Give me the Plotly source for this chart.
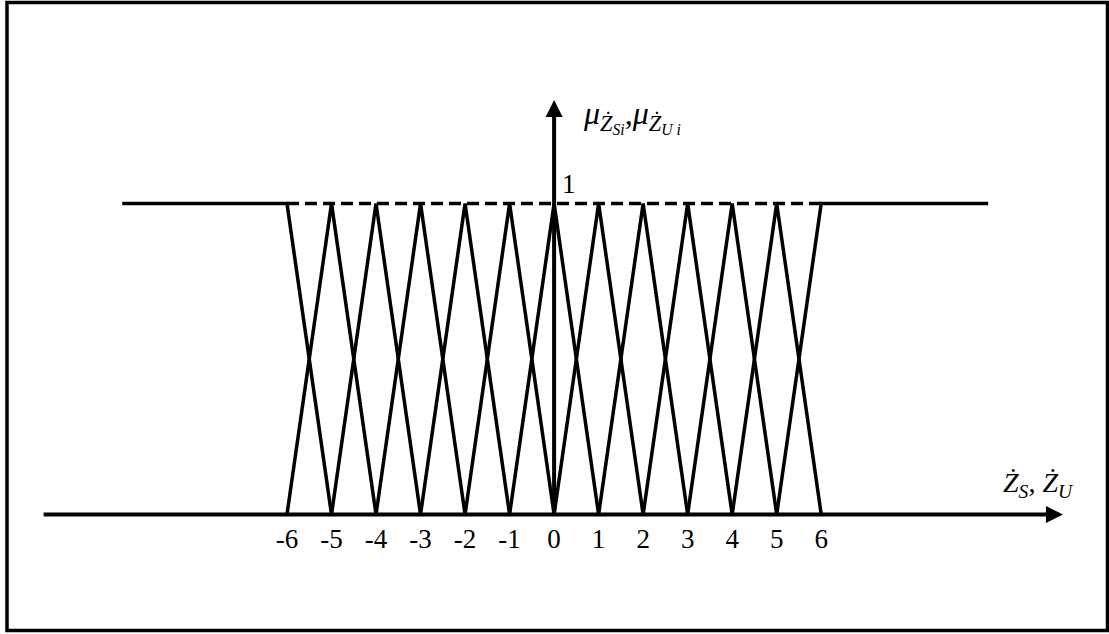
import plotly.graph_objects as go

# ---- data ----
centers = [-6, -5, -4, -3, -2, -1, 0, 1, 2, 3, 4, 5, 6]
tick_labels = ["-6", "-5", "-4", "-3", "-2", "-1", "0", "1", "2", "3", "4", "5", "6"]
peak = 1.0
shoulder_left_end = -9.7
shoulder_right_end = 9.75
x_axis_start, x_axis_end = -11.5, 11.43
y_axis_end = 1.333

W, H = 1109, 634
px_per_unit = 44.52
zero_px = 554.1
y0_px, y1_px = 514.5, 203.5

xr = [(0 - zero_px) / px_per_unit, (W - zero_px) / px_per_unit]
ppy = (y0_px - y1_px)
yr = [(y0_px - H) / ppy, y0_px / ppy]

fig = go.Figure()
line = dict(color="black", width=3.5)

# interior triangular membership functions
for c in centers[1:-1]:
    fig.add_trace(go.Scatter(x=[c - 1, c, c + 1], y=[0, peak, 0], mode="lines",
                             line=line, hoverinfo="skip", showlegend=False))
# left shoulder
fig.add_trace(go.Scatter(x=[shoulder_left_end, centers[0], centers[1]], y=[peak, peak, 0],
                         mode="lines", line=line, hoverinfo="skip", showlegend=False))
# right shoulder
fig.add_trace(go.Scatter(x=[centers[-2], centers[-1], shoulder_right_end], y=[0, peak, peak],
                         mode="lines", line=line, hoverinfo="skip", showlegend=False))
# dashed level line
fig.add_trace(go.Scatter(x=[centers[0], centers[-1]], y=[peak, peak], mode="lines",
                         line=dict(color="black", width=3.5, dash="12px,6px"),
                         hoverinfo="skip", showlegend=False))

serif = "Liberation Serif"
annotations = [
    # x axis arrow
    dict(x=x_axis_end, y=0, ax=x_axis_start, ay=0, xref="x", yref="y", axref="x", ayref="y",
         showarrow=True, arrowhead=2, arrowsize=0.85, arrowwidth=4, arrowcolor="black",
         standoff=0, startstandoff=0, text=""),
    # y axis arrow
    dict(x=0, y=y_axis_end, ax=0, ay=0, xref="x", yref="y", axref="x", ayref="y",
         showarrow=True, arrowhead=2, arrowsize=0.85, arrowwidth=4, arrowcolor="black",
         standoff=0, startstandoff=0, text=""),
    dict(x=(569 - zero_px) / px_per_unit, y=(y0_px - 184) / ppy, xref="x", yref="y", text="1",
         showarrow=False, xanchor="center", yanchor="middle",
         font=dict(family=serif, size=27, color="black")),
    dict(x=(581 - zero_px) / px_per_unit, y=(y0_px - 116) / ppy, xref="x", yref="y",
         xanchor="left", yanchor="middle", showarrow=False,
         text="<i>μ</i><sub><i>Ż</i><sub><i>Si</i></sub></sub>,<i>μ</i><sub><i>Ż</i><sub><i>U i</i></sub></sub>",
         font=dict(family=serif, size=32, color="black")),
    dict(x=(1001 - zero_px) / px_per_unit, y=(y0_px - 484) / ppy, xref="x", yref="y",
         xanchor="left", yanchor="middle", showarrow=False,
         text="<i>Ż</i><sub><i>S</i></sub>, <i>Ż</i><sub><i>U</i></sub>",
         font=dict(family=serif, size=28, color="black")),
]

fig.update_layout(
    width=W, height=H,
    margin=dict(l=0, r=0, t=0, b=0),
    paper_bgcolor="white", plot_bgcolor="white",
    showlegend=False,
    xaxis=dict(range=xr, showgrid=False, zeroline=False, showline=False,
               tickvals=centers, ticktext=tick_labels, ticks="",
               tickfont=dict(family=serif, size=27, color="black"),
               anchor="free", position=(H - y0_px) / H, ticklabelstandoff=5,
               fixedrange=True),
    yaxis=dict(range=yr, visible=False, fixedrange=True),
    annotations=annotations,
    shapes=[dict(type="rect", xref="paper", yref="paper",
                 x0=7 / W, x1=1107.5 / W, y0=(H - 630.5) / H, y1=(H - 2.5) / H,
                 line=dict(color="black", width=3.5))],
)

fig.write_html("out.html")
